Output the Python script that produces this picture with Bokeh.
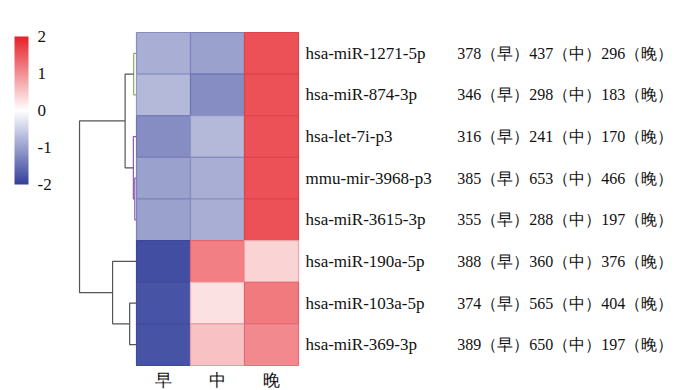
from bokeh.plotting import figure
from bokeh.models import Range1d, LinearColorMapper, ColorBar, FixedTicker, ColumnDataSource
from bokeh.core.properties import value
from bokeh.transform import transform
from bokeh.embed import file_html
from bokeh.resources import INLINE

# ---------------- data ----------------
genes = ["hsa-miR-1271-5p", "hsa-miR-874-3p", "hsa-let-7i-p3", "mmu-mir-3968-p3",
         "hsa-miR-3615-3p", "hsa-miR-190a-5p", "hsa-miR-103a-5p", "hsa-miR-369-3p"]
stages = ["早", "中", "晚"]
# row-scaled expression (z-score)
z_early = [-0.85, -0.75, -1.2, -1.0, -1.0, -1.85, -1.8, -1.8]
z_mid = [-1.0, -1.2, -0.75, -0.85, -0.85, 1.15, 0.28, 0.56]
z_late = [1.55, 1.55, 1.55, 1.55, 1.55, 0.4, 1.2, 1.05]
count_early = [378, 346, 316, 385, 355, 388, 374, 389]
count_mid = [437, 298, 241, 653, 288, 360, 565, 650]
count_late = [296, 183, 170, 466, 197, 376, 404, 197]
cbar_ticks = [-2, -1, 0, 1, 2]
cbar_labels = ["-2", "-1", "0", "1", "2"]
# dendrogram linkage: (child a, child b, height); leaves 0..7, merges numbered from 8
link_a = [0, 3, 2, 8, 6, 5, 11]
link_b = [1, 4, 9, 10, 7, 12, 13]
link_h = [0.05, 0.03, 0.055, 0.2, 0.12, 0.42, 1.0]
link_color = ["#8caf5c", "#8a5bb0", "#8a5bb0", "#555555", "#555555", "#555555", "#555555"]

# ---------------- palette ----------------
def lerp(c1, c2, t):
    return "#%02x%02x%02x" % tuple(int(round(a + (b - a) * t)) for a, b in zip(c1, c2))

blue = (52, 65, 155)
white = (255, 255, 255)
red = (230, 32, 40)
N = 128
fill_pal = [lerp(blue, white, i / (N - 1)) for i in range(N)] + [lerp(white, red, i / (N - 1)) for i in range(N)]
dark = lambda c, f=0.85: tuple(int(x * f) for x in c)
line_pal = [lerp(dark(blue, 0.95), (200, 200, 225), i / (N - 1)) for i in range(N)] + \
           [lerp((240, 200, 205), dark(red, 0.95), i / (N - 1)) for i in range(N)]
fill_mapper = LinearColorMapper(palette=fill_pal, low=-2, high=2)
line_mapper = LinearColorMapper(palette=line_pal, low=-2, high=2)

# ---------------- figure ----------------
W, H = 680, 390
p = figure(width=W, height=H, output_backend="svg", toolbar_location=None,
           x_range=Range1d(-136 / 54, (W - 136) / 54),
           y_range=Range1d(-(H - 365) / 41.6, 8 + 32 / 41.6), min_border=0)
p.axis.visible = False
p.grid.visible = False
p.outline_line_color = None
p.background_fill_color = "white"

n = len(genes)
xs, ys, zs = [], [], []
for j, col in enumerate([z_early, z_mid, z_late]):
    for i in range(n):
        xs.append(j + 0.5)
        ys.append(n - 1 - i + 0.5)
        zs.append(col[i])
src = ColumnDataSource(dict(x=xs, y=ys, z=zs))
p.rect("x", "y", width=1, height=1, source=src,
       fill_color=transform("z", fill_mapper), line_color=transform("z", line_mapper), line_width=1.2)

# row labels and counts
row_y = [n - 1 - i + 0.5 for i in range(n)]
serif = value("Liberation Serif")
p.text(x=[3.13] * n, y=row_y, text=genes, text_font=serif, text_font_size="17px",
       text_baseline="middle", text_align="left", text_color="#111111")
count_txt = ["%d（早）%d（中）%d（晚）" % (a, b, c) for a, b, c in zip(count_early, count_mid, count_late)]
p.text(x=[5.94] * n, y=row_y, text=count_txt, text_font=serif, text_font_size="16px",
       text_baseline="middle", text_align="left", text_color="#111111")
# column labels
p.text(x=[0.5, 1.5, 2.5], y=[-0.36] * 3, text=stages, text_font=serif, text_font_size="17px",
       text_baseline="middle", text_align="center", text_color="#111111")

# dendrogram
scale = 1.055
node_y = {i: row_y[i] for i in range(n)}
node_h = {i: 0.0 for i in range(n)}
seg_x, seg_y, seg_c = [], [], []
for k, (a, b, h) in enumerate(zip(link_a, link_b, link_h)):
    ya, yb = node_y[a], node_y[b]
    seg_x.append([-node_h[a] * scale, -h * scale, -h * scale, -node_h[b] * scale])
    seg_y.append([ya, ya, yb, yb])
    seg_c.append(link_color[k])
    node_y[n + k] = (ya + yb) / 2
    node_h[n + k] = h
p.multi_line(seg_x, seg_y, line_color=seg_c, line_width=1.2)

# colour bar
cb = ColorBar(color_mapper=fill_mapper, ticker=FixedTicker(ticks=cbar_ticks), width=14, height=148,
              location=(14, H - 184), padding=0, background_fill_alpha=0, border_line_color=None,
              major_tick_line_color=None, bar_line_color=None, label_standoff=9,
              major_label_overrides=dict(zip(cbar_ticks, cbar_labels)),
              major_label_text_font="Liberation Serif", major_label_text_font_size="17px",
              major_label_text_color="#111111")
p.add_layout(cb, "center")

open("out.html", "w").write(file_html(p, INLINE))
